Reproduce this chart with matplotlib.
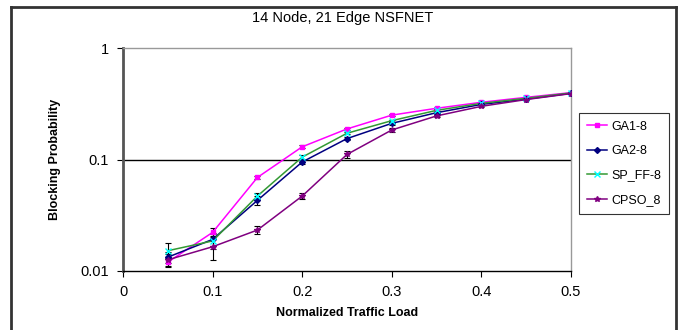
import matplotlib.pyplot as plt
from matplotlib.lines import Line2D

plt.rcParams['font.family'] = ['Liberation Sans', 'DejaVu Sans']

# traffic load values
load = [0.05, 0.1, 0.15, 0.2, 0.25, 0.3, 0.35, 0.4, 0.45, 0.5]

# blocking probability per algorithm
ga1 = [0.0120, 0.0222, 0.069, 0.130, 0.188, 0.250, 0.288, 0.326, 0.361, 0.398]
ga2 = [0.0133, 0.0192, 0.043, 0.095, 0.154, 0.211, 0.263, 0.312, 0.348, 0.392]
spff = [0.0152, 0.0186, 0.047, 0.105, 0.172, 0.223, 0.276, 0.319, 0.354, 0.395]
cpso = [0.0126, 0.0165, 0.0233, 0.047, 0.111, 0.184, 0.246, 0.300, 0.345, 0.390]

# error bar half widths
ga1_err = [0.0012, 0.0020, 0.002, 0.004, 0.005, 0.005, 0.005, 0.005, 0.005, 0.005]
ga2_err = [0.0015, 0.0025, 0.004, 0.004, 0.004, 0.005, 0.005, 0.005, 0.005, 0.005]
spff_err = [0.0025, 0.0030, 0.003, 0.004, 0.004, 0.005, 0.005, 0.005, 0.005, 0.005]
cpso_err = [0.0015, 0.0040, 0.0018, 0.003, 0.008, 0.006, 0.005, 0.005, 0.005, 0.005]

names = ['GA1-8', 'GA2-8', 'SP_FF-8', 'CPSO_8']

fig = plt.figure(figsize=(6.94, 3.30), dpi=100)
ax = fig.add_axes([123 / 694, 59 / 330, 448 / 694, 223 / 330])

series = [
    (ga1, ga1_err, '#FF00FF', '#FF00FF', 's', 3.5),
    (ga2, ga2_err, '#000080', '#000080', 'D', 3),
    (spff, spff_err, '#339933', '#00FFFF', 'x', 4),
    (cpso, cpso_err, '#800080', '#800080', '*', 4),
]
handles = []
for (vals, err, lc, mc, mk, ms), name in zip(series, names):
    ax.errorbar(load, vals, yerr=err, fmt='none', ecolor='black',
                elinewidth=0.8, capsize=2, capthick=0.8, zorder=2)
    ax.plot(load, vals, color=lc, linewidth=1.1, zorder=3)
    ax.plot(load, vals, linestyle='none', marker=mk, markersize=ms,
            color=mc, markeredgecolor=mc, markeredgewidth=1, zorder=4)
    handles.append(Line2D([], [], color=lc, linewidth=1.1, marker=mk,
                          markersize=ms, markerfacecolor=mc,
                          markeredgecolor=mc, label=name))

ax.set_yscale('log')
ax.set_ylim(0.01, 1)
ax.set_xlim(0, 0.5)
ax.set_xticks([0, 0.1, 0.2, 0.3, 0.4, 0.5])
ax.set_xticklabels(['0', '0.1', '0.2', '0.3', '0.4', '0.5'])
ax.set_yticks([0.01, 0.1, 1])
ax.set_yticklabels(['0.01', '0.1', '1'])
ax.minorticks_off()
ax.tick_params(labelsize=10.5, length=4, width=0.8, pad=6)
ax.axhline(0.1, color='black', linewidth=1, zorder=1)

ax.spines['left'].set_color('#555555')
ax.spines['left'].set_linewidth(2)
ax.spines['bottom'].set_color('black')
ax.spines['bottom'].set_linewidth(1)
for s in ['top', 'right']:
    ax.spines[s].set_color('#999999')
    ax.spines[s].set_linewidth(1)

ax.set_xlabel('Normalized Traffic Load', fontsize=9, fontweight='bold', labelpad=6)
ax.set_ylabel('Blocking Probability', fontsize=9, fontweight='bold', labelpad=14)
fig.text(343 / 694, 1 - 18 / 330, '14 Node, 21 Edge NSFNET', ha='center',
         va='center', fontsize=10.5)

leg = fig.legend(handles=handles, loc='upper left',
                 bbox_to_anchor=(579 / 694, 1 - 113 / 330), fontsize=9,
                 frameon=True, fancybox=False, edgecolor='black',
                 handlelength=1.6, handletextpad=0.4, labelspacing=1.0,
                 borderpad=0.6, borderaxespad=0)
leg.get_frame().set_linewidth(0.8)

# outer chart frame
fx0, fx1, fy0 = 11 / 694, 676 / 694, 1 - 7 / 330
for xs, ys in [([fx0, fx0], [0, fy0]), ([fx0, fx1], [fy0, fy0]), ([fx1, fx1], [fy0, 0])]:
    fig.add_artist(Line2D(xs, ys, color='#333333', linewidth=2,
                          transform=fig.transFigure))

fig.savefig('out.png', dpi=100)
